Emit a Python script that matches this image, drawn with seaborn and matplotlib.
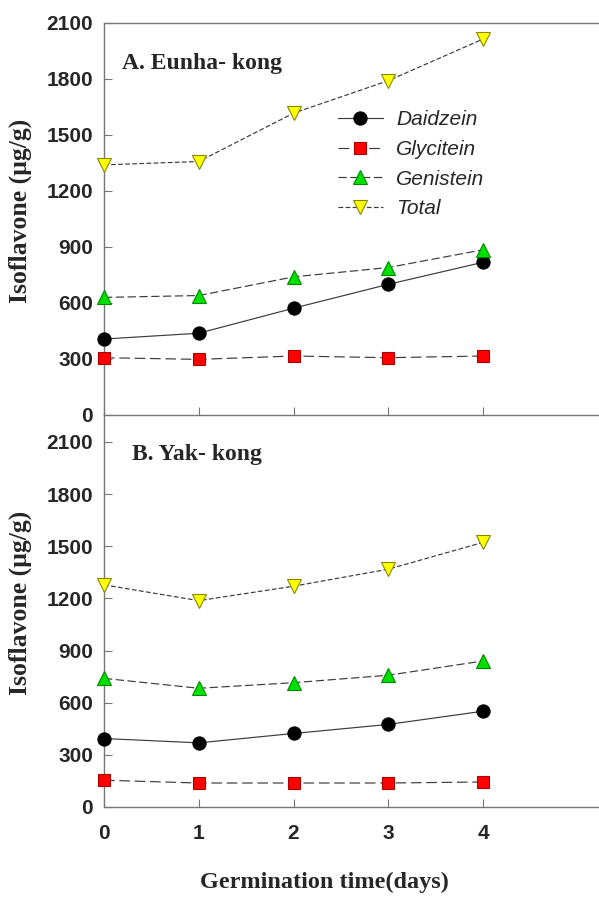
import matplotlib
matplotlib.use("Agg")
import matplotlib.pyplot as plt
import seaborn as sns
import pandas as pd

days = [0, 1, 2, 3, 4]
series_names = ["Daidzein", "Glycitein", "Genistein", "Total"]

# Panel A: Eunha-kong
eunha_daidzein = [407, 438, 572, 700, 818]
eunha_glycitein = [307, 298, 316, 307, 316]
eunha_genistein = [630, 640, 740, 790, 885]
eunha_total = [1340, 1358, 1617, 1791, 2014]

# Panel B: Yak-kong
yak_daidzein = [394, 369, 423, 475, 551]
yak_glycitein = [154, 138, 138, 138, 144]
yak_genistein = [740, 683, 715, 758, 840]
yak_total = [1278, 1187, 1270, 1368, 1522]

y_ticks = [0, 300, 600, 900, 1200, 1500, 1800, 2100]
x_ticks = [0, 1, 2, 3, 4]

sns.set_theme(style="white")
plt.rcParams["font.family"] = ["Liberation Sans", "DejaVu Sans"]

SERIF = ["Liberation Serif", "DejaVu Serif"]

styles = {
    "Daidzein": dict(marker="o", mfc="#000000", mec="#000000", ls="-", ms=9.5),
    "Glycitein": dict(marker="s", mfc="#ff0000", mec="#aa0000", ls=(0, (9, 4)), ms=8.8),
    "Genistein": dict(marker="^", mfc="#00e000", mec="#008800", ls=(0, (7, 3)), ms=10),
    "Total": dict(marker="v", mfc="#ffff00", mec="#888800", ls=(0, (4, 2)), ms=10),
}

fig = plt.figure(figsize=(5.99, 9.0), dpi=100)
ax_w = 1.0 - 104 / 599
ax_h = 392 / 900
axA = fig.add_axes([104 / 599, 1 - 415 / 900, ax_w, ax_h])
axB = fig.add_axes([104 / 599, 1 - 807 / 900, ax_w, ax_h])
axB.set_facecolor("none")

panels = [
    (axA, [eunha_daidzein, eunha_glycitein, eunha_genistein, eunha_total], "A. Eunha- kong", 2100,
     (122 - 104) / 495, (415 - 64) / 392),
    (axB, [yak_daidzein, yak_glycitein, yak_genistein, yak_total], "B. Yak- kong", 2255,
     (132 - 104) / 495, (807 - 455) / 392),
]

for ax, vals, title, ymax, tx, ty in panels:
    for name, v in zip(series_names, vals):
        st = styles[name]
        df = pd.DataFrame({"day": days, "val": v})
        sns.lineplot(data=df, x="day", y="val", ax=ax, color="#3a3a3a", linewidth=0.85,
                     linestyle=st["ls"], marker=st["marker"], markersize=st["ms"],
                     markerfacecolor=st["mfc"], markeredgecolor=st["mec"],
                     markeredgewidth=0.8, label=name, legend=False, clip_on=False,
                     zorder=3)
    ax.set_xlim(0, 5.224)
    ax.set_ylim(0, ymax)
    ax.set_yticks(y_ticks)
    ax.set_xticks(x_ticks)
    ax.set_ylabel("Isoflavone (μg/g)", family=SERIF, fontweight="bold", fontsize=18.5)
    ax.yaxis.set_label_coords(-0.145, 0.52)
    ax.set_xlabel("")
    ax.tick_params(axis="both", direction="in", length=6, width=0.8, color="#777777",
                   labelsize=15, pad=8, bottom=True, left=True, top=False, right=False)
    for lbl in ax.get_yticklabels() + ax.get_xticklabels():
        lbl.set_fontweight("bold")
    for s in ["left", "bottom", "top"]:
        ax.spines[s].set_color("#777777")
        ax.spines[s].set_linewidth(1.0)
    ax.spines["right"].set_visible(False)
    ax.text(tx, ty, title, transform=ax.transAxes, family=SERIF, fontweight="bold",
            fontsize=17, va="center", ha="left")

axA.tick_params(axis="x", labelbottom=False)
axB.spines["top"].set_visible(False)
axB.tick_params(axis="x", pad=12)
axB.set_xlabel("Germination time(days)", family=SERIF, fontweight="bold", fontsize=17.5)
axB.xaxis.set_label_coords((324 - 104) / 495, -(872 - 807) / 392)

leg = axA.legend(loc="upper left", bbox_to_anchor=((338 - 104) / 495, (415 - 110) / 392),
                 frameon=False,
                 prop=dict(family="Liberation Sans", style="italic", size=15),
                 handlelength=2.15, labelspacing=0.52, handletextpad=0.65,
                 borderaxespad=0, borderpad=0)

fig.savefig("out.png", dpi=100)
